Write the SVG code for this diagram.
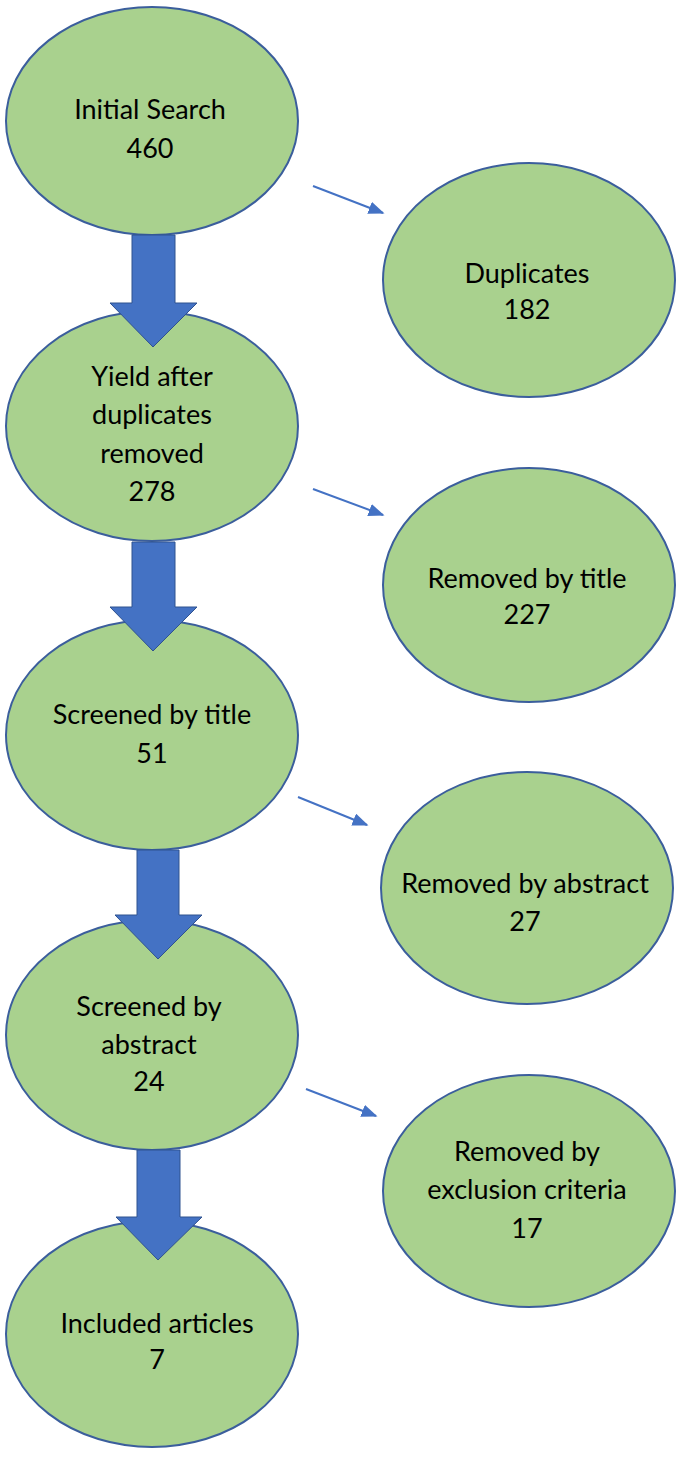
<svg xmlns="http://www.w3.org/2000/svg" width="678" height="1459" viewBox="0 0 678 1459">
<style>
.node ellipse{fill:#A9D18E;stroke:#3B5E9C;stroke-width:2}
.node text{font-family:Lato,"Liberation Sans",sans-serif;font-size:27px;fill:#000;text-anchor:middle;dominant-baseline:central}
.block{fill:#4472C4;stroke:#2F528F;stroke-width:1}
.thin{stroke:#4472C4;stroke-width:2;fill:none;marker-end:url(#ah)}
</style>
<defs>
<marker id="ah" viewBox="0 0 10 8" refX="9" refY="4" markerWidth="8" markerHeight="6.4" markerUnits="strokeWidth" orient="auto">
<path d="M0,0 L10,4 L0,8 Z" fill="#4472C4"/>
</marker>
</defs>
<rect width="678" height="1459" fill="#fff"/>
<g id="n-initial" class="node"><ellipse cx="152" cy="121" rx="146" ry="114"/><text x="150" y="108">Initial Search</text><text x="150" y="147">460</text></g>
<g id="n-yield" class="node"><ellipse cx="152" cy="426" rx="146" ry="115"/><text x="152" y="375">Yield after</text><text x="152" y="413">duplicates</text><text x="152" y="452">removed</text><text x="152" y="490">278</text></g>
<g id="n-title" class="node"><ellipse cx="152" cy="735" rx="146" ry="115"/><text x="152" y="713">Screened by title</text><text x="152" y="752">51</text></g>
<g id="n-abstract" class="node"><ellipse cx="152" cy="1035" rx="146" ry="115"/><text x="149" y="1005">Screened by</text><text x="149" y="1043">abstract</text><text x="149" y="1080">24</text></g>
<g id="n-included" class="node"><ellipse cx="152" cy="1334" rx="146" ry="113"/><text x="157" y="1322">Included articles</text><text x="157" y="1358">7</text></g>
<g id="n-duplicates" class="node"><ellipse cx="529" cy="280" rx="146" ry="117"/><text x="527" y="272">Duplicates</text><text x="527" y="308">182</text></g>
<g id="n-rem-title" class="node"><ellipse cx="529" cy="585" rx="146" ry="117"/><text x="527" y="577">Removed by title</text><text x="527" y="613">227</text></g>
<g id="n-rem-abstract" class="node"><ellipse cx="527" cy="888" rx="146" ry="116"/><text x="525" y="882">Removed by abstract</text><text x="525" y="920">27</text></g>
<g id="n-rem-excl" class="node"><ellipse cx="529" cy="1191" rx="146" ry="116"/><text x="527" y="1150">Removed by</text><text x="527" y="1188">exclusion criteria</text><text x="527" y="1227">17</text></g>
<g id="connectors">
<path class="block" d="M132,235 L175,235 L175,303 L197,303 L153,347 L110,303 L132,303 Z"/>
<path class="block" d="M132,542 L175,542 L175,607 L197,607 L153,651 L110,607 L132,607 Z"/>
<path class="block" d="M137,850 L179,850 L179,915 L202,915 L158,959 L115,915 L137,915 Z"/>
<path class="block" d="M137,1150 L180,1150 L180,1217 L202,1217 L158,1260 L116,1217 L137,1217 Z"/>
<line class="thin" x1="313" y1="186" x2="383" y2="213"/>
<line class="thin" x1="313" y1="489" x2="383" y2="515"/>
<line class="thin" x1="298" y1="797" x2="367" y2="825"/>
<line class="thin" x1="306" y1="1089" x2="376" y2="1116"/>
</g>
</svg>
